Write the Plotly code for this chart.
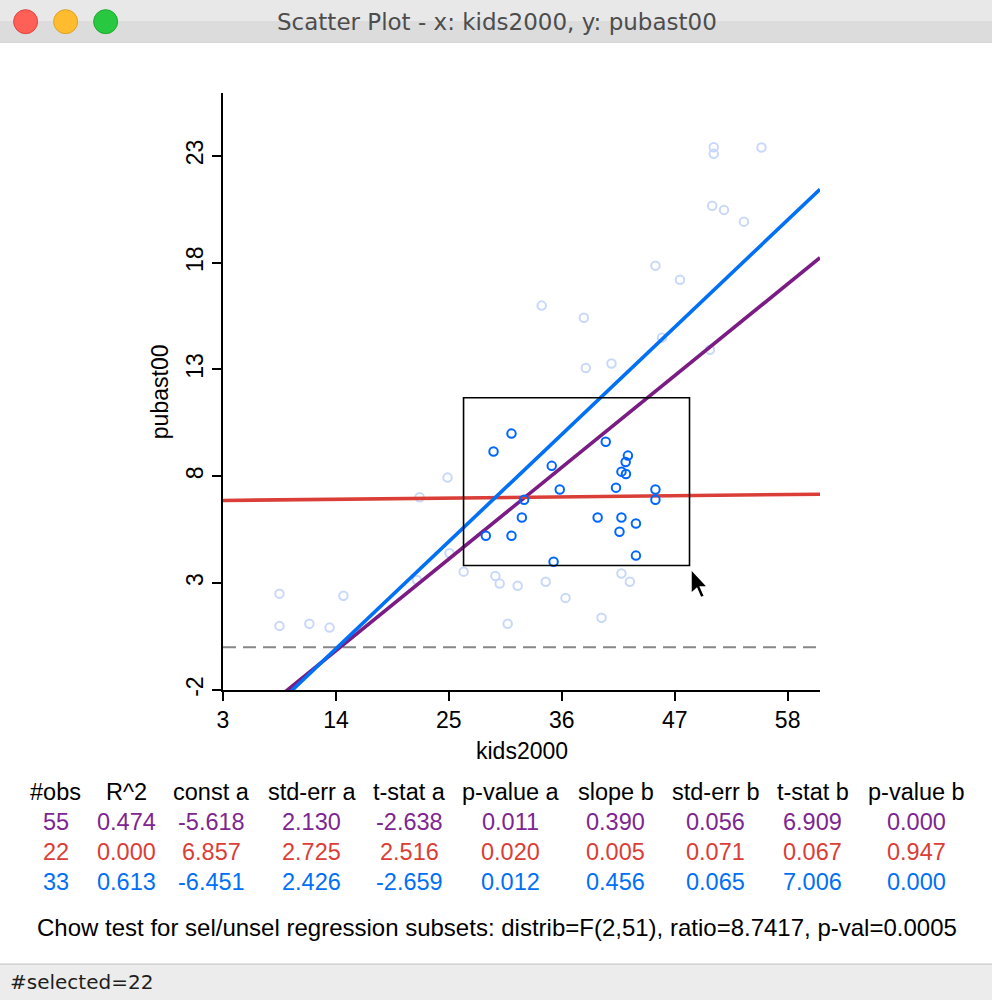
import plotly.graph_objects as go

# puntos seleccionados (dentro del rectangulo)
sel_x = [31.1, 29.35, 40.28, 42.44, 42.22, 35.02, 41.81, 42.25, 35.8, 41.28, 45.12,
         45.12, 32.33, 32.11, 39.49, 41.81, 43.22, 28.6, 31.1, 41.62, 35.2, 43.22]
sel_y = [10.0, 9.16, 9.62, 8.97, 8.67, 8.49, 8.22, 8.11, 7.38, 7.47, 7.38,
         6.9, 6.9, 6.07, 6.07, 6.07, 5.79, 5.22, 5.22, 5.41, 4.0, 4.29]

# puntos no seleccionados
unsel_x = [50.8, 50.8, 55.45, 50.65, 51.8, 53.74, 45.12, 47.51, 34.04, 38.15, 45.76,
           50.43, 38.34, 40.84, 24.87, 22.15, 25.06, 21.89, 26.44, 29.53, 29.95, 31.7,
           34.43, 36.36, 41.81, 42.63, 39.87, 30.73, 8.5, 14.73, 8.5, 11.41, 13.38]
unsel_y = [23.4, 23.1, 23.39, 20.66, 20.47, 19.92, 17.86, 17.2, 15.99, 15.42, 14.49,
           13.92, 13.07, 13.28, 7.94, 7.02, 4.4, 3.15, 3.54, 3.34, 2.98, 2.88,
           3.07, 2.31, 3.45, 3.07, 1.38, 1.1, 2.51, 2.41, 1.0, 1.1, 0.92]

# regresiones: todos, seleccionados, no seleccionados
reg_const = [-5.618, 6.857, -6.451]
reg_slope = [0.390, 0.005, 0.456]
reg_line_colors = ['rgb(122,28,132)', 'rgb(218,62,55)', 'rgb(0,112,245)']
reg_text_colors = ['rgb(125,38,145)', 'rgb(218,62,55)', 'rgb(0,112,245)']

# rectangulo de seleccion
sel_box_x = [26.43, 48.44]
sel_box_y = [3.83, 11.68]

x_range = [3, 61.15]
y_range = [-2, 25.94]
x_ticks = [3, 14, 25, 36, 47, 58]
y_ticks = [-2, 3, 8, 13, 18, 23]

# tabla de resultados
headers = ['#obs', 'R^2', 'const a', 'std-err a', 't-stat a', 'p-value a',
           'slope b', 'std-err b', 't-stat b', 'p-value b']
rows = [
    ['55', '0.474', '-5.618', '2.130', '-2.638', '0.011', '0.390', '0.056', '6.909', '0.000'],
    ['22', '0.000', '6.857', '2.725', '2.516', '0.020', '0.005', '0.071', '0.067', '0.947'],
    ['33', '0.613', '-6.451', '2.426', '-2.659', '0.012', '0.456', '0.065', '7.006', '0.000'],
]
chow_text = 'Chow test for sel/unsel regression subsets: distrib=F(2,51), ratio=8.7417, p-val=0.0005'
window_title = 'Scatter Plot - x: kids2000, y: pubast00'
status_text = '#selected=22'

# geometria en pixeles
W, H = 992, 1000
L, T, R, B = 223.3, 93.3, 820, 690
PW, PH = R - L, B - T


def px(p):
    return (p - L) / PW


def py(p):
    return (B - p) / PH


FONT = 'Liberation Sans, Arial, sans-serif'

fig = go.Figure()

fig.add_trace(go.Scatter(
    x=unsel_x, y=unsel_y, mode='markers',
    marker=dict(symbol='circle-open', size=8.5, color='rgb(200,216,250)', line=dict(width=2)),
    hoverinfo='skip', showlegend=False))

# lineas de regresion
for a, b, c in zip(reg_const, reg_slope, reg_line_colors):
    fig.add_trace(go.Scatter(
        x=x_range, y=[a + b * x_range[0], a + b * x_range[1]], mode='lines',
        line=dict(color=c, width=3.6), hoverinfo='skip', showlegend=False))

fig.add_trace(go.Scatter(
    x=sel_x, y=sel_y, mode='markers',
    marker=dict(symbol='circle-open', size=8.5, color='rgb(0,102,255)', line=dict(width=2)),
    hoverinfo='skip', showlegend=False))

shapes = []
# linea y=0
shapes.append(dict(type='line', xref='x', yref='y', x0=x_range[0], x1=x_range[1], y0=0, y1=0,
                   line=dict(color='rgb(135,135,135)', width=1.8, dash='13px,7px'), layer='below'))
shapes.append(dict(type='rect', xref='x', yref='y', x0=sel_box_x[0], x1=sel_box_x[1],
                   y0=sel_box_y[0], y1=sel_box_y[1], line=dict(color='black', width=1.6)))

# barra de titulo de la ventana
shapes.append(dict(type='rect', xref='paper', yref='paper', x0=px(0), x1=px(W), y0=py(0), y1=py(21),
                   fillcolor='rgb(232,232,232)', line=dict(width=0)))
shapes.append(dict(type='rect', xref='paper', yref='paper', x0=px(0), x1=px(W), y0=py(21), y1=py(42),
                   fillcolor='rgb(220,220,220)', line=dict(width=0)))
shapes.append(dict(type='line', xref='paper', yref='paper', x0=px(0), x1=px(W), y0=py(42.5), y1=py(42.5),
                   line=dict(color='rgb(196,196,196)', width=1)))
for cx, fc, lc in [(26, '#fe5f57', '#e0443e'), (66, '#febc2e', '#dea123'), (106, '#28c840', '#1aab29')]:
    shapes.append(dict(type='circle', xref='paper', yref='paper',
                       x0=px(cx - 12), x1=px(cx + 12), y0=py(22 - 12), y1=py(22 + 12),
                       fillcolor=fc, line=dict(color=lc, width=1)))

# barra de estado
shapes.append(dict(type='rect', xref='paper', yref='paper', x0=px(0), x1=px(W), y0=py(964), y1=py(H + 20),
                   fillcolor='rgb(236,236,236)', line=dict(width=0)))
shapes.append(dict(type='line', xref='paper', yref='paper', x0=px(0), x1=px(W), y0=py(964), y1=py(964),
                   line=dict(color='rgb(200,200,200)', width=1.2)))

# cursor del raton
tip_x, tip_y = 691, 569
arrow = [(0, 0), (0, 25), (5.8, 19.6), (9.8, 28.8), (13.6, 27.2), (9.6, 18.2), (17, 18.2)]
path = 'M ' + ' L '.join(f'{px(tip_x + ax):.5f},{py(tip_y + ay):.5f}' for ax, ay in arrow) + ' Z'
shapes.append(dict(type='path', xref='paper', yref='paper', path=path,
                   fillcolor='black', line=dict(color='white', width=1.6)))

annotations = []
annotations.append(dict(text=window_title, x=px(497), y=py(22), xref='paper', yref='paper',
                        showarrow=False, xanchor='center', yanchor='middle',
                        font=dict(family='DejaVu Sans', size=23, color='rgb(77,77,77)')))
annotations.append(dict(text=status_text, x=px(8), y=py(982), xref='paper', yref='paper',
                        showarrow=False, xanchor='left', yanchor='middle',
                        font=dict(family='DejaVu Sans', size=20, color='rgb(30,30,30)')))
annotations.append(dict(text='kids2000', x=0.5, y=py(751), xref='paper', yref='paper',
                        showarrow=False, xanchor='center', yanchor='middle',
                        font=dict(family=FONT, size=23, color='black')))
annotations.append(dict(text='pubast00', x=px(160), y=0.5, xref='paper', yref='paper',
                        showarrow=False, xanchor='center', yanchor='middle', textangle=-90,
                        font=dict(family=FONT, size=23, color='black')))

col_x = [56, 127, 212, 312, 410, 511, 616, 716, 813, 916]
row_y = [792, 822, 852, 881.5]
for cx, h in zip(col_x, headers):
    annotations.append(dict(text=h, x=px(cx), y=py(row_y[0]), xref='paper', yref='paper',
                            showarrow=False, xanchor='center', yanchor='middle',
                            font=dict(family=FONT, size=23.5, color='black')))
for row, ry, col in zip(rows, row_y[1:], reg_text_colors):
    for cx, v in zip(col_x, row):
        annotations.append(dict(text=v, x=px(cx), y=py(ry), xref='paper', yref='paper',
                                showarrow=False, xanchor='center', yanchor='middle',
                                font=dict(family=FONT, size=23.5, color=col)))
annotations.append(dict(text=chow_text, x=px(497), y=py(927), xref='paper', yref='paper',
                        showarrow=False, xanchor='center', yanchor='middle',
                        font=dict(family=FONT, size=24, color='black')))

axis_common = dict(showgrid=False, zeroline=False, showline=True, linecolor='black', linewidth=1.6,
                   ticks='outside', ticklen=9, tickwidth=1.6, tickcolor='black',
                   tickfont=dict(family=FONT, size=23, color='black'))

fig.update_layout(
    width=W, height=H,
    margin=dict(l=L, r=W - R, t=T, b=H - B, pad=0),
    paper_bgcolor='white', plot_bgcolor='white',
    xaxis=dict(range=x_range, tickvals=x_ticks, ticktext=[str(v) for v in x_ticks], **axis_common),
    yaxis=dict(range=y_range, tickvals=y_ticks, ticktext=[str(v) for v in y_ticks],
               tickangle=-90, **axis_common),
    shapes=shapes, annotations=annotations,
    showlegend=False,
)

fig.write_html("out.html", config={'displayModeBar': False},
               post_script="document.body.style.margin='0px';")
